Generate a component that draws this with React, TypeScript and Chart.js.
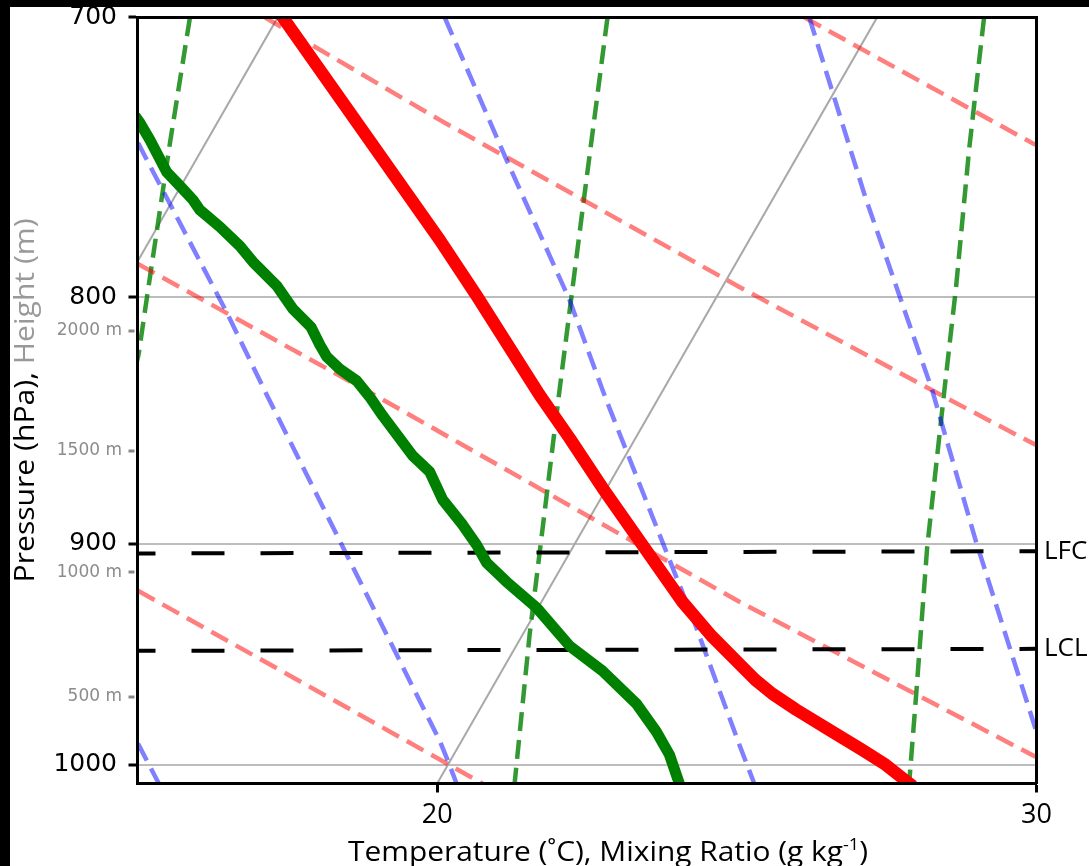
import React, { useEffect, useRef } from 'react';
import { Chart, registerables } from 'chart.js';

Chart.register(...registerables);

// ---- axis ranges and ticks ----
const X_MIN = 15;
const X_MAX = 30;
const P_TOP = 700;
const P_BOTTOM = 1009;

const xTickValues = [20, 30];
const pressureTicks = [700, 800, 900, 1000];
const heightLabels = ['2000 m', '1500 m', '1000 m', '500 m'];
const heightPressures = [813.0, 860.8, 912.3, 968.0];

// ---- sounding profiles (x = skewed temperature axis value, p = hPa) ----
const tempX = [17.337, 20.042, 20.675, 21.708, 22.208, 22.758, 23.425, 24.092, 24.575, 25.042, 25.308, 25.592, 25.992, 26.542, 27.092, 27.458, 27.875, 27.942];
const tempP = [697.5, 778.4, 800.0, 838.2, 855.6, 876.2, 900.4, 925.2, 940.3, 953.0, 960.3, 966.7, 974.1, 983.5, 992.9, 999.5, 1008.9, 1010.3];

const dewX = [14.958, 15.042, 15.208, 15.487, 15.708, 15.925, 16.042, 16.375, 16.708, 16.925, 17.325, 17.592, 17.892, 18.042, 18.158, 18.375, 18.658, 18.875, 19.092, 19.592, 19.875, 20.092, 20.425, 20.658, 20.825, 21.158, 21.658, 22.208, 22.758, 23.325, 23.658, 23.875, 24.042, 24.075];
const dewP = [733.7, 736.2, 742.2, 753.6, 758.6, 763.7, 767.4, 773.6, 780.7, 786.6, 795.7, 804.5, 811.4, 818.4, 823.1, 827.9, 832.6, 839.0, 846.6, 862.9, 869.5, 881.2, 891.8, 900.4, 908.1, 916.4, 927.8, 944.8, 956.2, 971.3, 984.4, 995.2, 1009.1, 1012.0];

// ---- background lines ----
const isothermX = [[10, 17.34], [20, 27.34]];
const isothermP = [[1009, 700], [1009, 700]];

const dryAdiabatX = [
  [26.125, 29.983],
  [17.125, 20.042, 25.042, 28.542, 29.983],
  [15.008, 19.042, 25.042, 29.983],
  [15.008, 19.992, 20.758],
];
const dryAdiabatP = [
  [700, 743.9],
  [700, 735.1, 796.1, 840.0, 858.4],
  [787.4, 839.4, 925.2, 996.2],
  [920.3, 996.7, 1009.1],
];

const moistAdiabatX = [
  [15.008, 15.358],
  [15.008, 16.492, 17.158, 20.042, 20.192, 20.325],
  [20.125, 21.158, 22.208, 22.808, 23.758, 24.325, 25.042, 25.292],
  [26.208, 27.142, 28.258, 28.992, 29.983],
];
const moistAdiabatP = [
  [990.0, 1009.1],
  [743.2, 806.0, 838.2, 988.6, 999.1, 1009.1],
  [700, 749.3, 801.0, 839.4, 899.1, 936.7, 990.5, 1009.1],
  [700, 762.6, 836.2, 899.1, 983.0],
];

const mixingLineX = [
  [15.875, 15.542, 15.208, 15.017, 14.975],
  [22.842, 22.425, 22.042, 21.542, 21.292],
  [29.125, 28.875, 28.658, 28.458, 28.175, 27.992, 27.875],
];
const mixingLineP = [
  [700, 743.2, 792.3, 822.3, 826.3],
  [700, 767.4, 836.2, 939.9, 1009.1],
  [700, 745.7, 796.1, 837.4, 901.7, 967.2, 1009.1],
];

// ---- LFC / LCL levels ----
const levelLabels = ['LFC', 'LCL'];
const levelX = [15, 30];
const lfcP = [904.1, 903.1];
const lclP = [947.1, 946.2];

function pts(xs: number[], ps: number[]) {
  return xs.map((x, i) => ({ x, y: ps[i] }));
}

const isHeightTick = (v: any) => heightPressures.indexOf(v) >= 0;

const titlesPlugin = {
  id: 'skewtTitles',
  afterDraw(chart: any) {
    const ctx = chart.ctx as CanvasRenderingContext2D;
    const area = chart.chartArea;
    // x-axis title
    ctx.save();
    const mainFont = '28px "Open Sans"';
    const supFont = '17px "Open Sans"';
    const p1 = 'Temperature (\u02DAC), Mixing Ratio (g kg';
    const p2 = '-1';
    const p3 = ')';
    ctx.font = mainFont;
    const w1 = ctx.measureText(p1).width;
    const w3 = ctx.measureText(p3).width;
    ctx.font = supFont;
    const w2 = ctx.measureText(p2).width;
    const total = w1 + w2 + w3;
    const targetW = 520;
    const sx = targetW / total;
    const cx = (area.left + area.right) / 2 + 21;
    const base = area.bottom + 77;
    ctx.translate(cx - targetW / 2, base);
    ctx.scale(sx, 1);
    ctx.fillStyle = '#000';
    ctx.textAlign = 'left';
    ctx.textBaseline = 'alphabetic';
    ctx.font = mainFont;
    ctx.fillText(p1, 0, 0);
    ctx.font = supFont;
    ctx.fillText(p2, w1, -11);
    ctx.font = mainFont;
    ctx.fillText(p3, w1 + w2, 0);
    ctx.restore();

    // y-axis title (two colours)
    ctx.save();
    const t1 = 'Pressure (hPa), ';
    const t2 = 'Height (m)';
    ctx.font = mainFont;
    const a = ctx.measureText(t1).width;
    const b = ctx.measureText(t2).width;
    const L = 364;
    const s = L / (a + b);
    ctx.translate(24, (area.top + area.bottom) / 2);
    ctx.rotate(-Math.PI / 2);
    ctx.scale(s, 1);
    ctx.textAlign = 'left';
    ctx.textBaseline = 'alphabetic';
    ctx.fillStyle = '#000';
    ctx.fillText(t1, -(a + b) / 2, 0);
    ctx.fillStyle = '#999999';
    ctx.fillText(t2, -(a + b) / 2 + a, 0);
    ctx.restore();
  },
};

export default function App() {
  const ref = useRef<HTMLCanvasElement | null>(null);

  useEffect(() => {
    if (!ref.current) return;
    const common = {
      showLine: true,
      pointRadius: 0,
      pointHoverRadius: 0,
      fill: false,
      tension: 0,
      clip: 0,
      xAxisID: 'x',
      yAxisID: 'y',
      borderCapStyle: 'butt',
      borderJoinStyle: 'round',
    };
    const bgDash = [19, 9];
    const datasets: any[] = [];
    datasets.push({ ...common, label: 'Temperature', data: pts(tempX, tempP), borderColor: '#ff0000', borderWidth: 12.5 });
    datasets.push({ ...common, label: 'Dewpoint', data: pts(dewX, dewP), borderColor: '#008000', borderWidth: 11 });
    datasets.push({ ...common, label: 'LFC', data: pts(levelX, lfcP), borderColor: '#000', borderWidth: 4, borderDash: [33, 36], borderDashOffset: 15, borderJoinStyle: 'miter' });
    datasets.push({ ...common, label: 'LCL', data: pts(levelX, lclP), borderColor: '#000', borderWidth: 4, borderDash: [33, 36], borderDashOffset: 15, borderJoinStyle: 'miter' });
    moistAdiabatX.forEach((xs, i) =>
      datasets.push({ ...common, label: 'moist' + i, data: pts(xs, moistAdiabatP[i]), borderColor: 'rgba(0,0,255,0.5)', borderWidth: 4.5, borderDash: bgDash })
    );
    dryAdiabatX.forEach((xs, i) =>
      datasets.push({ ...common, label: 'dry' + i, data: pts(xs, dryAdiabatP[i]), borderColor: 'rgba(255,0,0,0.5)', borderWidth: 4.5, borderDash: bgDash })
    );
    mixingLineX.forEach((xs, i) =>
      datasets.push({ ...common, label: 'mix' + i, data: pts(xs, mixingLineP[i]), borderColor: 'rgba(0,128,0,0.8)', borderWidth: 4.5, borderDash: bgDash })
    );
    isothermX.forEach((xs, i) =>
      datasets.push({ ...common, label: 'iso' + i, data: pts(xs, isothermP[i]), borderColor: '#a8a8a8', borderWidth: 2 })
    );

    const chart = new Chart(ref.current, {
      type: 'scatter',
      data: { datasets },
      options: {
        animation: false,
        responsive: false,
        devicePixelRatio: 1,
        events: [],
        layout: { padding: 0 },
        plugins: { legend: { display: false }, tooltip: { enabled: false }, title: { display: false } },
        scales: {
          x: {
            type: 'linear',
            position: 'bottom',
            min: X_MIN,
            max: X_MAX,
            afterBuildTicks: (s: any) => { s.ticks = xTickValues.map((v) => ({ value: v })); },
            afterFit: (s: any) => { s.height = 82.5; s.paddingLeft = 0; s.paddingRight = 0; },
            grid: { display: true, drawOnChartArea: false, drawTicks: true, tickLength: 9, tickColor: '#000', tickWidth: 3 },
            border: { display: true, color: '#000', width: 3, z: 1 },
            ticks: {
              autoSkip: false,
              maxRotation: 0,
              minRotation: 0,
              padding: 7,
              color: '#000',
              font: { family: 'Open Sans', size: 27 },
              callback: (v: any) => String(v),
            },
          },
          xTop: {
            type: 'linear',
            position: 'top',
            min: X_MIN,
            max: X_MAX,
            afterFit: (s: any) => { s.height = 10.4; s.paddingLeft = 0; s.paddingRight = 0; },
            ticks: { display: false },
            grid: { display: false, drawTicks: false },
            border: { display: true, color: '#000', width: 3, z: 1 },
          },
          y: {
            type: 'logarithmic',
            position: 'left',
            reverse: true,
            min: P_TOP,
            max: P_BOTTOM,
            bounds: 'data',
            afterBuildTicks: (s: any) => {
              s.ticks = [...pressureTicks, ...heightPressures].sort((p, q) => p - q).map((v) => ({ value: v }));
            },
            afterFit: (s: any) => { s.width = 127.5; s.paddingTop = 0; s.paddingBottom = 0; },
            ticks: {
              autoSkip: false,
              padding: 6.5,
              callback: (v: any) => {
                const i = heightPressures.indexOf(v);
                return i >= 0 ? heightLabels[i] : String(v) + '\u2009';
              },
              font: (c: any) => (c.tick && isHeightTick(c.tick.value) ? { family: 'DejaVu Sans', size: 17 } : { family: 'DejaVu Sans', size: 25 }),
              color: (c: any) => (c.tick && isHeightTick(c.tick.value) ? '#8c8c8c' : '#000'),
            },
            grid: {
              display: true,
              drawOnChartArea: true,
              drawTicks: true,
              tickLength: 9,
              lineWidth: 2,
              tickWidth: 3,
              color: (c: any) => (c.tick && isHeightTick(c.tick.value) ? 'rgba(0,0,0,0)' : '#bdbdbd'),
              tickColor: (c: any) => (c.tick && isHeightTick(c.tick.value) ? '#888888' : '#000'),
              tickBorderDash: (c: any) => (c.tick && isHeightTick(c.tick.value) ? [6, 60] : []),
            },
            border: { display: true, color: '#000', width: 3, z: 1 },
          },
          yRight: {
            type: 'logarithmic',
            position: 'right',
            reverse: true,
            min: P_TOP,
            max: P_BOTTOM,
            bounds: 'data',
            afterBuildTicks: (s: any) => { s.ticks = [lfcP[1], lclP[1]].map((v) => ({ value: v })); },
            afterFit: (s: any) => { s.width = 52.5; s.paddingTop = 0; s.paddingBottom = 0; },
            ticks: {
              autoSkip: false,
              padding: 7.5,
              color: '#000',
              font: { family: 'Open Sans', size: 26 },
              callback: (_v: any, i: number) => levelLabels[i],
            },
            grid: { display: false, drawTicks: false },
            border: { display: true, color: '#000', width: 3, z: 1 },
          },
        },
      } as any,
      plugins: [titlesPlugin],
    });
    return () => chart.destroy();
  }, []);

  return (
    <div style={{ position: 'fixed', left: 0, top: 0, width: 1089, height: 866, background: '#000', overflow: 'hidden' }}>
      <canvas
        ref={ref}
        width={1079}
        height={859}
        style={{ position: 'absolute', left: 10, top: 7, width: 1079, height: 859, background: '#fff' }}
      />
    </div>
  );
}
